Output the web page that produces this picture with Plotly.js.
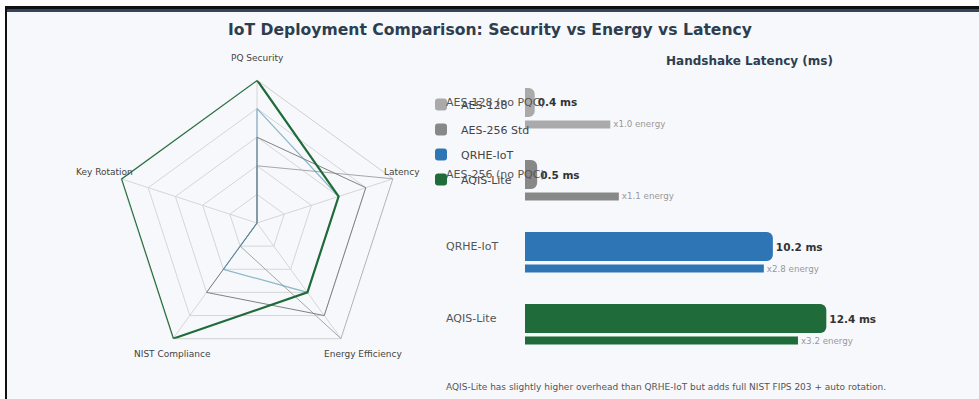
<!DOCTYPE html>
<html>
<head>
<meta charset="utf-8">
<script src="https://cdn.plot.ly/plotly-3.0.1.min.js"></script>
<style>
  html, body { margin: 0; padding: 0; background: #ffffff; }
  #wrap { position: relative; width: 979px; height: 399px; overflow: hidden; }
  #chart { position: absolute; left: 0; top: 0; width: 979px; height: 399px; }
  .ov { position: absolute; pointer-events: none; }
</style>
</head>
<body>
<div id="wrap">
  <div id="chart"></div>
  <div class="ov" style="left:0;top:0;width:979px;height:6px;background:#ffffff"></div>
  <div class="ov" style="left:0;top:0;width:5px;height:399px;background:#ffffff"></div>
  <div class="ov" style="left:5px;top:6px;width:974px;height:3px;background:#111111"></div>
  <div class="ov" style="left:5px;top:9px;width:974px;height:3px;background:#34465e"></div>
  <div class="ov" style="left:5px;top:6px;width:2px;height:393px;background:#111111"></div>
</div>
<script>
// ---- data ----
var radarAxes = ["PQ Security", "Latency", "Energy Efficiency", "NIST Compliance", "Key Rotation"];
var seriesNames = ["AES-128", "AES-256 Std", "QRHE-IoT", "AQIS-Lite"];
var radarAES128 = [0.4, 1.0, 1.0, 0.2, 0.0];
var radarAES256 = [0.6, 0.8, 0.8, 0.6, 0.0];
var radarQRHE   = [0.8, 0.6, 0.6, 0.4, 0.0];
var radarAQIS   = [1.0, 0.6, 0.6, 1.0, 1.0];
var categories  = ["AES-128 (no PQC)", "AES-256 (no PQC)", "QRHE-IoT", "AQIS-Lite"];
var latencyMs   = [0.4, 0.5, 10.2, 12.4];
var energyRel   = [1.0, 1.1, 2.8, 3.2];
var seriesColors = ["#aaaaaa", "#888888", "#2e75b6", "#1f6b3a"];
var footnote = "AQIS-Lite has slightly higher overhead than QRHE-IoT but adds full NIST FIPS 203 + auto rotation.";

var W = 979, H = 399;
function px(x) { return x / W; }
function py(y) { return 1 - y / H; }

var radarSets = [radarAES128, radarAES256, radarQRHE, radarAQIS];
var radarLine = [
  {color: "#a6a6a6", width: 1},
  {color: "#808080", width: 1},
  {color: "rgba(70,140,170,0.6)", width: 1.2},
  {color: "#1f6b3a", width: 2.2}
];

var traces = [];
radarSets.forEach(function (vals, i) {
  traces.push({
    type: "scatterpolar",
    r: vals.concat([vals[0]]),
    theta: radarAxes.concat([radarAxes[0]]),
    mode: "lines",
    line: radarLine[i],
    cliponaxis: false,
    name: seriesNames[i],
    showlegend: false,
    hoverinfo: "skip"
  });
});

categories.forEach(function (c, i) {
  traces.push({
    type: "bar", orientation: "h",
    x: [latencyMs[i]], y: [c],
    xaxis: "x2", yaxis: "y2",
    width: 0.403,
    marker: {color: seriesColors[i], cornerradius: 6},
    name: seriesNames[i],
    legendgroup: "g" + i,
    showlegend: true,
    text: [latencyMs[i] + " ms"],
    textposition: "outside",
    constraintext: "none",
    cliponaxis: false,
    textfont: {family: "DejaVu Sans", size: 10.5, color: "#333333", weight: "bold"},
    hoverinfo: "skip"
  });
});

categories.forEach(function (c, i) {
  traces.push({
    type: "bar", orientation: "h",
    x: [energyRel[i]], y: [c],
    xaxis: "x3", yaxis: "y2",
    width: 0.111, offset: 0.25,
    marker: {color: seriesColors[i]},
    name: seriesNames[i] + " energy",
    legendgroup: "g" + i,
    showlegend: false,
    text: ["x" + energyRel[i].toFixed(1) + " energy"],
    textposition: "outside",
    constraintext: "none",
    cliponaxis: false,
    textfont: {family: "DejaVu Sans", size: 8.7, color: "#999999"},
    hoverinfo: "skip"
  });
});

var annotations = [];
categories.forEach(function (c) {
  annotations.push({
    text: c, xref: "paper", x: px(444), xanchor: "left",
    yref: "y2", y: c, yanchor: "middle", showarrow: false,
    font: {family: "DejaVu Sans", size: 11, color: "#555555"}
  });
});
var radarLabelPos = [[257, 58], [402, 172], [363, 354], [172, 354], [104, 172]];
radarAxes.forEach(function (a, i) {
  annotations.push({
    text: a, xref: "paper", yref: "paper",
    x: px(radarLabelPos[i][0]), y: py(radarLabelPos[i][1]),
    xanchor: "center", yanchor: "middle", showarrow: false,
    font: {family: "DejaVu Sans", size: 9, color: "#444444"}
  });
});
annotations.push({
  text: "<b>Handshake Latency (ms)</b>", xref: "paper", yref: "paper",
  x: px(749), y: py(61), xanchor: "center", yanchor: "middle", showarrow: false,
  font: {family: "DejaVu Sans", size: 12, color: "#2c3e50"}
});
annotations.push({
  text: footnote, xref: "paper", yref: "paper",
  x: px(444), y: py(387), xanchor: "left", yanchor: "middle", showarrow: false,
  font: {family: "DejaVu Sans", size: 9, color: "#555555"}
});

var layout = {
  width: W, height: H,
  margin: {l: 0, r: 0, t: 0, b: 0, pad: 0},
  paper_bgcolor: "#f7f8fb",
  plot_bgcolor: "rgba(0,0,0,0)",
  font: {family: "DejaVu Sans", color: "#444444"},
  title: {
    text: "<b>IoT Deployment Comparison: Security vs Energy vs Latency</b>",
    x: px(490), xanchor: "center", y: py(30), yanchor: "middle",
    font: {family: "DejaVu Sans", size: 15.6, color: "#2c3e50"}
  },
  showlegend: true,
  legend: {
    x: px(421), xanchor: "left", y: py(90), yanchor: "top",
    bgcolor: "rgba(0,0,0,0)", borderwidth: 0,
    traceorder: "grouped", tracegroupgap: 6,
    font: {family: "DejaVu Sans", size: 11, color: "#444444"}
  },
  barmode: "overlay",
  polar: {
    domain: {x: [px(114), px(400)], y: [py(366), py(80)]},
    bgcolor: "rgba(0,0,0,0)",
    gridshape: "linear",
    angularaxis: {
      rotation: 90, direction: "clockwise",
      showticklabels: false, ticks: "",
      showline: true, linecolor: "#d0d0d0", linewidth: 1,
      gridcolor: "#d6d6d6", layer: "below traces"
    },
    radialaxis: {
      range: [0, 1], dtick: 0.2, showticklabels: false, ticks: "",
      showline: false, gridcolor: "#d6d6d6", layer: "below traces"
    }
  },
  xaxis2: {
    domain: [px(525), px(900)], range: [0, 375 / 24.3],
    anchor: "y2", visible: false, showgrid: false, zeroline: false, fixedrange: true
  },
  xaxis3: {
    domain: [px(525), px(900)], range: [0, 375 / 85.3],
    anchor: "y2", overlaying: "x2", visible: false, showgrid: false, zeroline: false, fixedrange: true
  },
  yaxis2: {
    domain: [py(360), py(60)], type: "category", categoryarray: categories,
    categoryorder: "array", range: [3.576, -0.590],
    anchor: "x2", visible: false, showgrid: false, zeroline: false, fixedrange: true
  },
  annotations: annotations
};

Plotly.newPlot("chart", traces, layout, {displayModeBar: false, staticPlot: true});
</script>
</body>
</html>
